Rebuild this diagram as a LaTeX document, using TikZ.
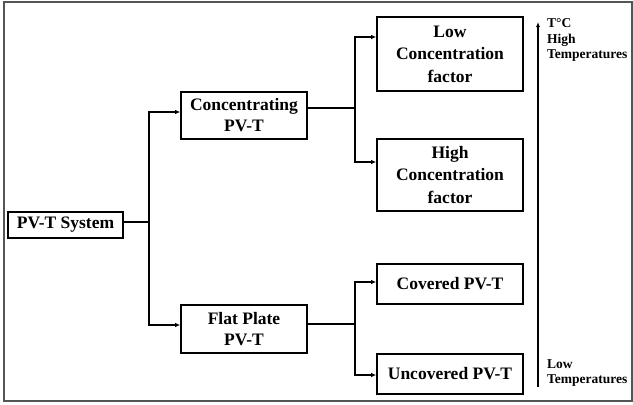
\documentclass[tikz,border=0pt]{standalone}
\usepackage{fontspec}
\setmainfont{Liberation Serif}
\usepackage{xcolor}
\usetikzlibrary{arrows.meta,positioning,calc}
\definecolor{framegrey}{RGB}{85,85,85}

\begin{document}
\begin{tikzpicture}[x=1pt,y=-1pt,
  every node/.style={font=\fontsize{17.5}{21}\selectfont\bfseries},
  blk/.style={draw=black,line width=1.6pt,align=center,inner sep=0pt,minimum width=146pt},
  tall/.style={font=\fontsize{17.5}{22.5}\selectfont\bfseries},
  ln/.style={line width=1.6pt},
  ar/.style={line width=1.6pt,-{Latex[length=5pt,width=4.5pt]}},
  tlab/.style={font=\fontsize{13.5}{15.5}\selectfont\bfseries,align=left,inner sep=0pt,anchor=north west}]
\useasboundingbox (0,0) rectangle (633,405);
\draw[framegrey,line width=1.2pt] (4,2) rectangle (632,401);
% classification boxes
\node[blk,minimum width=115pt,minimum height=26pt] (sys) at (65.5,225) {PV-T System};
\node[blk,minimum width=126pt,minimum height=47pt] (conc) at (244,115.5) {Concentrating\\PV-T};
\node[blk,minimum width=126pt,minimum height=48pt] (flat) at (244,329) {Flat Plate\\PV-T};
\node[blk,tall,minimum height=74pt] (low) at (450,54) {Low\\Concentration\\factor};
\node[blk,tall,minimum height=72pt] (high) at (450,175) {High\\Concentration\\factor};
\node[blk,minimum height=40pt] (cov) at (450,284) {Covered PV-T};
\node[blk,minimum height=40pt] (unc) at (450,374) {Uncovered PV-T};
% branches
\draw[ln] ([yshift=3pt]sys.east) -- ++(25,0) coordinate (j1);
\draw[ar] (j1) |- ([yshift=3.5pt]conc.west);
\draw[ar] (j1) |- ([yshift=4pt]flat.west);
\draw[ln] ([yshift=7.5pt]conc.east) -- ++(47,0) coordinate (j2);
\draw[ar] (j2) |- ([yshift=17pt]low.west);
\draw[ar] (j2) |- ([yshift=13pt]high.west);
\draw[ln] ([yshift=5pt]flat.east) -- ++(47,0) coordinate (j3);
\draw[ar] (j3) |- ([yshift=2pt]cov.west);
\draw[ar] (j3) |- ([yshift=-1pt]unc.west);
% temperature scale
\coordinate (tlo) at (538,387);
\coordinate (thi) at (538,22);
\draw[line width=1.3pt,-{Latex[length=5pt,width=4pt]}] (tlo) -- (thi);
\node[tlab] (thot) at (547,18.5) {T°C\\High\\Temperatures};
\node[tlab] (tcold) at (547,359) {Low\\Temperatures};
\end{tikzpicture}
\end{document}
